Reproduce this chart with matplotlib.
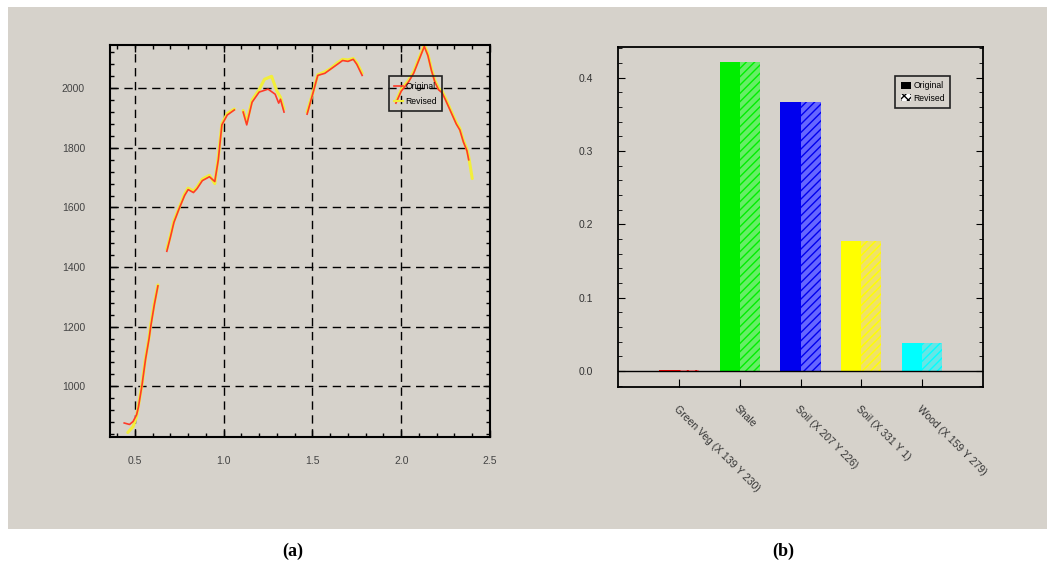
import numpy as np
import matplotlib
matplotlib.use("Agg")
import matplotlib.pyplot as plt
from matplotlib.patches import Rectangle, Patch
from matplotlib.lines import Line2D
from matplotlib.ticker import MultipleLocator, AutoMinorLocator

nan = np.nan

# (a) spectra, gaps = nan
orig_x = [0.44, 0.47, 0.49, 0.51, 0.52, 0.54, 0.56, 0.58, 0.59, 0.61, 0.63, nan,
          0.68, 0.70, 0.72, 0.75, 0.78, 0.80, 0.83, 0.85, 0.88, 0.92, 0.95, 0.97,
          0.99, 1.02, 1.06, nan,
          1.11, 1.13, 1.16, 1.20, 1.25, 1.29, 1.31, 1.32, 1.34, nan,
          1.47, 1.50, 1.53, 1.57, 1.60, 1.64, 1.67, 1.70, 1.73, 1.75, 1.78, nan,
          1.97, 2.00, 2.04, 2.07, 2.09, 2.11, 2.13, 2.15, 2.17, 2.19, 2.21, 2.23,
          2.25, 2.28, 2.31, 2.33, 2.35, 2.37, 2.38]
orig_y = [877, 872, 882, 905, 930, 1003, 1090, 1160, 1203, 1275, 1337, nan,
          1453, 1500, 1550, 1597, 1640, 1660, 1650, 1663, 1690, 1703, 1687, 1760,
          1877, 1910, 1927, nan,
          1920, 1877, 1953, 1987, 1997, 1980, 1950, 1963, 1920, nan,
          1913, 1977, 2043, 2050, 2063, 2080, 2093, 2090, 2097, 2080, 2043, nan,
          1950, 1990, 2020, 2050, 2080, 2110, 2140, 2110, 2060, 2020, 1995, 1985,
          1960, 1920, 1880, 1860, 1820, 1790, 1760]

rev_x = [0.46, 0.49, 0.51, 0.52, 0.54, 0.56, 0.58, 0.59, 0.61, 0.63, nan,
         0.68, 0.70, 0.72, 0.75, 0.78, 0.80, 0.83, 0.85, 0.88, 0.92, 0.95, 0.97,
         0.99, 1.02, 1.06, nan,
         1.11, 1.13, 1.16, 1.20, 1.23, 1.27, 1.30, 1.32, 1.34, nan,
         1.47, 1.50, 1.53, 1.57, 1.60, 1.64, 1.67, 1.70, 1.73, 1.75, 1.78, nan,
         1.97, 2.00, 2.04, 2.07, 2.09, 2.11, 2.13, 2.15, 2.17, 2.19, 2.21, 2.23,
         2.25, 2.28, 2.31, 2.33, 2.35, 2.37, 2.38, 2.40]
rev_y = [845, 865, 900, 935, 1005, 1095, 1165, 1210, 1280, 1340, nan,
         1460, 1505, 1555, 1600, 1645, 1665, 1655, 1668, 1695, 1708, 1680, 1770,
         1880, 1915, 1930, nan,
         1925, 1885, 1960, 1995, 2030, 2040, 1990, 1970, 1930, nan,
         1920, 1980, 2045, 2055, 2065, 2085, 2097, 2095, 2100, 2085, 2050, nan,
         1955, 1995, 2025, 2055, 2085, 2115, 2145, 2115, 2065, 2025, 2000, 1990,
         1965, 1925, 1885, 1865, 1825, 1795, 1770, 1697]

# (b) bars
categories = ["Green Veg (X 139 Y 230)", "Shale", "Soil (X 207 Y 226)",
              "Soil (X 331 Y 1)", "Wood (X 159 Y 279)"]
original = [0.001, 0.422, 0.367, 0.177, 0.038]
revised = [0.001, 0.421, 0.367, 0.177, 0.038]
colors = ["#ff0000", "#00ee00", "#0000ee", "#ffff00", "#00ffff"]
light_colors = ["#ff8080", "#66ee66", "#6666ff", "#f0e266", "#66e6e6"]

bg = "#d6d2cb"
plt.rcParams["font.family"] = ["Liberation Sans", "DejaVu Sans"]

fig = plt.figure(figsize=(10.55, 5.75), dpi=100)
fig.patch.set_facecolor("white")
fig.patches.append(Rectangle((8 / 1055, 1 - 529 / 575), 1039 / 1055, 522 / 575,
                             transform=fig.transFigure, facecolor=bg,
                             edgecolor="none", zorder=-10))

# ---- (a)
ax1 = fig.add_axes([110 / 1055, 1 - 437 / 575, 380 / 1055, 392 / 575])
ax1.set_facecolor(bg)
ax1.plot(rev_x, rev_y, color="#f2ee3a", lw=2.2, solid_capstyle="round")
ax1.plot(orig_x, orig_y, color="#ff3a28", lw=1.2)
ax1.set_xlim(0.36, 2.5)
ax1.set_ylim(830, 2145)
ax1.xaxis.set_major_locator(MultipleLocator(0.5))
ax1.xaxis.set_minor_locator(AutoMinorLocator(5))
ax1.yaxis.set_major_locator(MultipleLocator(200))
ax1.yaxis.set_minor_locator(AutoMinorLocator(5))
ax1.set_yticks([1000, 1200, 1400, 1600, 1800, 2000])
ax1.set_xticks([0.5, 1.0, 1.5, 2.0, 2.5])
ax1.grid(True, which="major", color="black", linestyle=(0, (6, 4)), lw=1.0)
ax1.tick_params(which="both", direction="in", top=True, right=True,
                labelsize=7.5, labelcolor="#444444")
ax1.tick_params(which="major", length=5, width=1)
ax1.tick_params(which="minor", length=3, width=1)
ax1.tick_params(axis="y", pad=18)
ax1.tick_params(axis="x", pad=14)
ax1.set_xticklabels(["0.5", "1.0", "1.5", "2.0", "2.5"])
for s in ax1.spines.values():
    s.set_linewidth(1.5)
h1 = [Line2D([], [], color="#ff3a28", lw=1.2), Line2D([], [], color="#f2ee3a", lw=1.5)]
leg1 = ax1.legend(h1, ["Original", "Revised"], loc="upper left",
                  bbox_to_anchor=(0.735, 0.92), fontsize=6.2, frameon=True,
                  fancybox=False, edgecolor="#222222", facecolor="none",
                  framealpha=1, handlelength=1.0, borderpad=0.6,
                  labelspacing=0.7, handletextpad=0.3, borderaxespad=0)
leg1.get_frame().set_linewidth(1.2)

# ---- (b)
ax2 = fig.add_axes([618 / 1055, 1 - 387 / 575, 365 / 1055, 340 / 575])
ax2.set_facecolor(bg)
pos = np.arange(1, len(categories) + 1)
w = 0.33
ax2.bar(pos - w / 2, original, width=w, color=colors, edgecolor="none")
for p, v, c, lc in zip(pos, revised, colors, light_colors):
    ax2.bar(p + w / 2, v, width=w, color=lc, edgecolor=c, lw=0, hatch="////")
ax2.axhline(0, color="black", lw=1.0)
ax2.set_xlim(0, 6)
ax2.set_ylim(-0.022, 0.442)
ax2.set_yticks([0.0, 0.1, 0.2, 0.3, 0.4])
ax2.set_yticklabels(["0.0", "0.1", "0.2", "0.3", "0.4"])
ax2.yaxis.set_minor_locator(AutoMinorLocator(5))
ax2.set_xticks(pos)
ax2.set_xticklabels(categories, rotation=-45, ha="left", va="top",
                    rotation_mode="anchor")
ax2.tick_params(which="both", direction="in", right=True, labelsize=7.5,
                labelcolor="#333333")
ax2.tick_params(axis="y", which="major", length=5, pad=18)
ax2.tick_params(axis="y", which="minor", length=3)
ax2.tick_params(axis="x", length=6, pad=12)
for s in ax2.spines.values():
    s.set_linewidth(1.3)
h2 = [Patch(facecolor="black"), Patch(facecolor="white", edgecolor="black",
                                      lw=0, hatch="xxxx")]
leg2 = ax2.legend(h2, ["Original", "Revised"], loc="upper left",
                  bbox_to_anchor=(0.76, 0.915), fontsize=6.2, frameon=True,
                  fancybox=False, edgecolor="#222222", facecolor="none",
                  framealpha=1, handlelength=1.2, handleheight=0.9,
                  borderpad=0.6, labelspacing=0.4, handletextpad=0.3,
                  borderaxespad=0)
leg2.get_frame().set_linewidth(1.2)

fig.text(293 / 1055, 1 - 551 / 575, "(a)", ha="center", va="center",
         fontsize=13, fontweight="bold", family="Liberation Serif")
fig.text(783 / 1055, 1 - 551 / 575, "(b)", ha="center", va="center",
         fontsize=13, fontweight="bold", family="Liberation Serif")

fig.savefig("out.png", dpi=100, facecolor="white")
